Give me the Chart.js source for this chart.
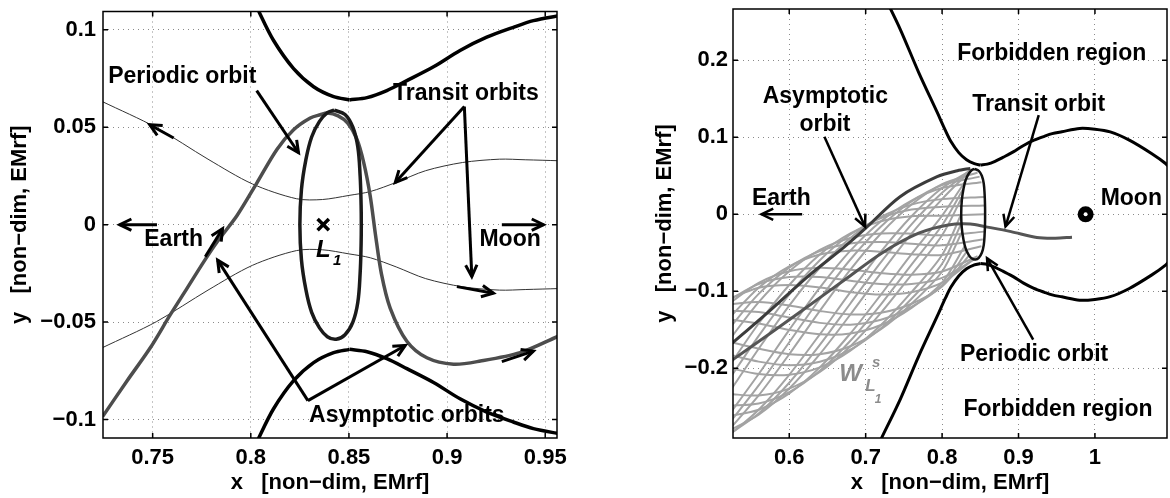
<!DOCTYPE html>
<html>
<head>
<meta charset="utf-8">
<script src="https://cdn.jsdelivr.net/npm/chart.js@4.4.1/dist/chart.umd.min.js"></script>
<style>
  html, body { margin: 0; padding: 0; overflow: hidden; background: #fff; width: 1170px; height: 498px; }
  #left { position: absolute; left: 0; top: 0; }
  #right { position: absolute; left: 585px; top: 0; }
</style>
</head>
<body>
<canvas id="left" width="585" height="498"></canvas>
<canvas id="right" width="590" height="498"></canvas>
<script>
const FONT = "'Liberation Sans', Arial, Helvetica, sans-serif";

// zero-velocity curve, Earth-side branch (upper / lower)
const zvcEarthX = [0.716, 0.7209, 0.7451, 0.7693, 0.7935, 0.8043, 0.8116, 0.8218, 0.832, 0.8422, 0.8503];
const zvcEarthUpperY = [0.300, 0.2903, 0.2406, 0.1844, 0.1326, 0.109, 0.0945, 0.0801, 0.0708, 0.0657, 0.064];
const zvcEarthLowerY = [-0.300, -0.2903, -0.2406, -0.1844, -0.1326, -0.109, -0.0945, -0.0801, -0.0708, -0.0657, -0.064];

// zero-velocity curve, Moon-side branch (upper / lower)
const zvcMoonX = [0.8503, 0.8592, 0.8693, 0.8795, 0.8931, 0.9066, 0.9202, 0.9338, 0.944, 0.9567, 0.98, 1.0, 1.02, 1.045, 1.074, 1.0924, 1.10];
const zvcMoonUpperY = [0.064, 0.0652, 0.0688, 0.0739, 0.081, 0.0894, 0.0962, 0.1013, 0.1047, 0.1072, 0.1115, 0.1105, 0.107, 0.0963, 0.079, 0.066, 0.058];
const zvcMoonLowerY = [-0.064, -0.0652, -0.0688, -0.0739, -0.081, -0.0894, -0.0962, -0.1013, -0.1047, -0.1072, -0.1115, -0.1105, -0.107, -0.0963, -0.079, -0.066, -0.058];

// periodic (Lyapunov) orbit around L1
const lyapX = [0.8425, 0.848, 0.852, 0.8545, 0.8557, 0.8562, 0.8563, 0.8562, 0.8557, 0.8545, 0.852, 0.848, 0.8435, 0.839, 0.835, 0.831, 0.828, 0.8258, 0.825, 0.8258, 0.828, 0.831, 0.835, 0.839, 0.8425];
const lyapY = [0.0588, 0.0565, 0.050, 0.040, 0.025, 0.010, 0, -0.010, -0.025, -0.040, -0.050, -0.0565, -0.0588, -0.0575, -0.053, -0.045, -0.033, -0.018, 0, 0.018, 0.033, 0.045, 0.053, 0.0575, 0.0588];

// left panel: asymptotic orbit (grey) and two transit orbits (thin)
const asymX = [0.7245, 0.737, 0.7488, 0.759, 0.7675, 0.776, 0.7828, 0.793, 0.8032, 0.8133, 0.8218, 0.8303, 0.8354, 0.839, 0.8445, 0.8495, 0.854, 0.8575, 0.8608, 0.8635, 0.8665, 0.871, 0.8795, 0.8897, 0.9033, 0.917, 0.9372, 0.957];
const asymY = [-0.0985, -0.0801, -0.0632, -0.0462, -0.0327, -0.0191, -0.0089, 0.0047, 0.0216, 0.0386, 0.0487, 0.0547, 0.0564, 0.0573, 0.0558, 0.052, 0.044, 0.032, 0.015, -0.005, -0.025, -0.0428, -0.0598, -0.0683, -0.0716, -0.07, -0.0657, -0.0571];
const transitX = [0.7245, 0.7519, 0.7782, 0.8008, 0.8233, 0.8365, 0.85, 0.8609, 0.8741, 0.8891, 0.9079, 0.9267, 0.9398, 0.957];
const transitUpperY = [0.0631, 0.0498, 0.0336, 0.0209, 0.0133, 0.0129, 0.015, 0.017, 0.0217, 0.0277, 0.0319, 0.0336, 0.0333, 0.0328];
const transitLowerY = [-0.0631, -0.0498, -0.0336, -0.0209, -0.0133, -0.0129, -0.015, -0.017, -0.0217, -0.0277, -0.0319, -0.0336, -0.0333, -0.0328];

// right panel: stable manifold tube. each row is one trajectory: its point on the orbit, then y at tubeStationX
const tubeStationX = [0.80, 0.76, 0.72, 0.68, 0.64, 0.60, 0.56, 0.52];
const tubeStartX = [
  0.8405, 0.8346, 0.8295, 0.8262, 0.825, 0.8262, 0.8295, 0.8346,
  0.8405, 0.8464, 0.8515, 0.8548, 0.856, 0.8548, 0.8515, 0.8464,
  0.8375, 0.8276, 0.8253, 0.8319, 0.8435, 0.8534, 0.8557, 0.8491,
];
const tubeStartY = [
  0.0588, 0.0543, 0.0416, 0.0225, 0, -0.0225, -0.0416, -0.0543,
  -0.0588, -0.0543, -0.0416, -0.0225, 0, 0.0225, 0.0416, 0.0543,
  0.0577, 0.0327, -0.0115, -0.0489, -0.0577, -0.0327, 0.0115, 0.0489,
];
const tubeY = [
  [0.0341, -0.0025, -0.0485, -0.101, -0.1559, -0.2084, -0.2538, -0.2881],
  [0.0197, -0.0251, -0.0764, -0.1301, -0.1816, -0.2263, -0.2603, -0.2813],
  [-0.0018, -0.0518, -0.1043, -0.1548, -0.1988, -0.2326, -0.2538, -0.2621],
  [-0.0273, -0.0785, -0.1279, -0.1713, -0.2048, -0.2263, -0.2352, -0.2332],
  [-0.0528, -0.1011, -0.1438, -0.1771, -0.1988, -0.2084, -0.2074, -0.1992],
  [-0.0743, -0.1162, -0.1493, -0.1713, -0.1816, -0.1817, -0.1746, -0.1652],
  [-0.0887, -0.1215, -0.1438, -0.1548, -0.1559, -0.1501, -0.1418, -0.1363],
  [-0.0938, -0.1162, -0.1279, -0.1301, -0.1255, -0.1185, -0.114, -0.1171],
  [-0.0887, -0.1011, -0.1043, -0.101, -0.0951, -0.0918, -0.0954, -0.1103],
  [-0.0743, -0.0785, -0.0764, -0.0719, -0.0694, -0.0739, -0.0889, -0.1171],
  [-0.0528, -0.0518, -0.0485, -0.0472, -0.0522, -0.0676, -0.0954, -0.1363],
  [-0.0273, -0.0251, -0.0249, -0.0307, -0.0462, -0.0739, -0.114, -0.1652],
  [-0.0018, -0.0025, -0.009, -0.0249, -0.0522, -0.0918, -0.1418, -0.1992],
  [0.0197, 0.0126, -0.0035, -0.0307, -0.0694, -0.1185, -0.1746, -0.2332],
  [0.0341, 0.0179, -0.009, -0.0472, -0.0951, -0.1501, -0.2074, -0.2621],
  [0.0392, 0.0126, -0.0249, -0.0719, -0.1255, -0.1817, -0.2352, -0.2813],
  [0.028, -0.013, -0.0622, -0.1158, -0.1696, -0.2187, -0.2587, -0.2864],
  [-0.0143, -0.0654, -0.1169, -0.1642, -0.2033, -0.231, -0.2458, -0.2486],
  [-0.0643, -0.1097, -0.1479, -0.1757, -0.1914, -0.196, -0.1913, -0.1819],
  [-0.0925, -0.1202, -0.137, -0.1433, -0.141, -0.134, -0.127, -0.1253],
  [-0.0826, -0.0906, -0.0906, -0.0862, -0.0814, -0.0815, -0.0905, -0.112],
  [-0.0403, -0.0382, -0.0359, -0.0378, -0.0477, -0.0692, -0.1034, -0.1498],
  [0.0097, 0.0061, -0.0049, -0.0263, -0.0596, -0.1042, -0.1579, -0.2165],
  [0.0379, 0.0166, -0.0158, -0.0587, -0.11, -0.1662, -0.2222, -0.2731],
];

// right panel: highlighted asymptotic orbit and transit orbit
const asymOrbitX = [0.52, 0.5758, 0.6242, 0.6726, 0.70, 0.745, 0.7935, 0.82, 0.837];
const asymOrbitY = [-0.172, -0.124, -0.0808, -0.0419, -0.018, 0.0229, 0.0488, 0.0565, 0.0596];
const transitOrbitX = [0.52, 0.5758, 0.6242, 0.6726, 0.7209, 0.7693, 0.808, 0.837, 0.8563, 0.8902, 0.924, 0.9483, 0.97];
const transitOrbitY = [-0.193, -0.1542, -0.1197, -0.0851, -0.0505, -0.0246, -0.0138, -0.0125, -0.016, -0.0225, -0.0302, -0.0311, -0.0298];

// markers
const l1Point = [0.8369, 0];
const moonPoint = [0.9878, 0];

// tick labels
const leftXTicks = [0.75, 0.8, 0.85, 0.9, 0.95];
const leftYTicks = [-0.1, -0.05, 0, 0.05, 0.1];
const rightXTicks = [0.6, 0.7, 0.8, 0.9, 1];
const rightYTicks = [-0.2, -0.1, 0, 0.1, 0.2];

// annotation arrows [x0, y0, x1, y1], head at the second point
const leftArrows = [
  [0.803, 0.0688, 0.8243, 0.0369],
  [0.9088, 0.0606, 0.8736, 0.0216],
  [0.9088, 0.0606, 0.9126, -0.0267],
  [0.8291, -0.0903, 0.7831, -0.0182],
  [0.8291, -0.0903, 0.8787, -0.062],
  [0.7522, 0, 0.7332, 0],
  [0.9279, 0, 0.9491, 0],
  [0.7768, -0.0165, 0.7856, -0.0021],
  [0.7607, 0.0445, 0.7485, 0.0513],
  [0.905, -0.0318, 0.9236, -0.0352],
  [0.9279, -0.0703, 0.944, -0.0649],
];
const rightArrows = [
  [0.6169, 0, 0.5637, 0],
  [0.646, 0.1006, 0.6992, -0.016],
  [0.9265, 0.1287, 0.883, -0.016],
  [0.9192, -0.1629, 0.8588, -0.057],
];

const leftNotes = [
  { text: 'Periodic orbit', x: 0.7651, y: 0.0759 },
  { text: 'Transit orbits', x: 0.9096, y: 0.0674 },
  { text: 'Earth', x: 0.7607, y: -0.0079 },
  { text: 'Moon', x: 0.9321, y: -0.0079 },
  { text: 'Asymptotic orbits', x: 0.8795, y: -0.0979 },
  { text: 'L', x: 0.8369, y: -0.013, italic: true, size: 24 },
  { text: '1', x: 0.8440, y: -0.0186, italic: true, size: 15 },
];
const rightNotes = [
  { text: 'Forbidden region', x: 0.9434, y: 0.2086 },
  { text: 'Asymptotic', x: 0.6472, y: 0.1525 },
  { text: 'orbit', x: 0.6467, y: 0.117 },
  { text: 'Transit orbit', x: 0.9264, y: 0.143 },
  { text: 'Earth', x: 0.5896, y: 0.0208 },
  { text: 'Moon', x: 1.0476, y: 0.0208 },
  { text: 'Periodic orbit', x: 0.9204, y: -0.1823 },
  { text: 'Forbidden region', x: 0.9516, y: -0.2535 },
  { text: 'W', x: 0.6804, y: -0.2078, italic: true, color: '#8c8c8c', size: 24 },
  { text: 's', x: 0.7137, y: -0.1931, italic: true, color: '#8c8c8c', size: 15 },
  { text: 'L', x: 0.7064, y: -0.2234, italic: true, color: '#8c8c8c', size: 17 },
  { text: '1', x: 0.7161, y: -0.2403, italic: true, color: '#8c8c8c', size: 12 },
];

const pts = (xs, ys) => xs.map((x, i) => ({ x, y: ys[i] }));

const curve = (xs, ys, color, width, tension) => ({
  data: pts(xs, ys),
  showLine: true,
  borderColor: color,
  borderWidth: width,
  pointRadius: 0,
  tension: tension === undefined ? 0.3 : tension,
  clip: 0,
});

const arrow = (a, width) => ({
  data: [{ x: a[0], y: a[1] }, { x: a[2], y: a[3] }],
  showLine: true,
  borderColor: '#000',
  borderWidth: width,
  pointRadius: 0,
  clip: 0,
  arrow: true,
});

const marker = (p, style, radius, color, border) => ({
  data: [{ x: p[0], y: p[1] }],
  pointStyle: style,
  pointRadius: radius,
  borderWidth: border,
  borderColor: color,
  backgroundColor: color,
  clip: 0,
});

const fmt = (v) => String(+Number(v).toFixed(3)).replace('-', '\u2212');

// open V arrow heads on datasets flagged with arrow
const arrowHeads = {
  id: 'arrowHeads',
  afterDatasetsDraw(chart) {
    const ctx = chart.ctx;
    chart.data.datasets.forEach((ds, i) => {
      if (!ds.arrow) return;
      const p = chart.getDatasetMeta(i).data;
      const a = p[p.length - 2], b = p[p.length - 1];
      const ang = Math.atan2(b.y - a.y, b.x - a.x);
      const len = 13, spread = 0.45;
      ctx.save();
      ctx.strokeStyle = ds.borderColor;
      ctx.lineWidth = ds.borderWidth;
      ctx.beginPath();
      ctx.moveTo(b.x - len * Math.cos(ang - spread), b.y - len * Math.sin(ang - spread));
      ctx.lineTo(b.x, b.y);
      ctx.lineTo(b.x - len * Math.cos(ang + spread), b.y - len * Math.sin(ang + spread));
      ctx.stroke();
      ctx.restore();
    });
  },
};

// axes box with inward tick marks
const frame = {
  id: 'frame',
  afterDatasetsDraw(chart) {
    const { ctx, chartArea: a, scales } = chart;
    ctx.save();
    ctx.strokeStyle = '#000';
    ctx.lineWidth = 1.5;
    ctx.beginPath();
    scales.x.ticks.forEach((t) => {
      const p = scales.x.getPixelForValue(t.value);
      ctx.moveTo(p, a.bottom); ctx.lineTo(p, a.bottom - 5);
      ctx.moveTo(p, a.top); ctx.lineTo(p, a.top + 5);
    });
    scales.y.ticks.forEach((t) => {
      const p = scales.y.getPixelForValue(t.value);
      ctx.moveTo(a.left, p); ctx.lineTo(a.left + 5, p);
      ctx.moveTo(a.right, p); ctx.lineTo(a.right - 5, p);
    });
    ctx.stroke();
    ctx.strokeRect(a.left, a.top, a.right - a.left, a.bottom - a.top);
    ctx.restore();
  },
};

const notesPlugin = (items) => ({
  id: 'notes',
  afterDatasetsDraw(chart) {
    const { ctx, scales } = chart;
    items.forEach((n) => {
      ctx.save();
      ctx.font = (n.italic ? 'italic ' : '') + 'bold ' + (n.size || 23) + 'px ' + FONT;
      ctx.fillStyle = n.color || '#000';
      ctx.textAlign = 'center';
      ctx.textBaseline = 'middle';
      ctx.fillText(n.text, scales.x.getPixelForValue(n.x), scales.y.getPixelForValue(n.y));
      ctx.restore();
    });
  },
});

const axes = (xr, yr, xTicks, yTicks, yWidth, yTitlePad, yTickPad) => ({
  x: {
    type: 'linear',
    min: xr[0],
    max: xr[1],
    afterBuildTicks: (s) => { s.ticks = xTicks.map((v) => ({ value: v })); },
    afterFit: (s) => { s.height = 60; s.paddingLeft = 0; s.paddingRight = 0; },
    grid: { color: '#8a8a8a', lineWidth: 1, drawTicks: false },
    border: { display: false, dash: [1, 4] },
    ticks: { padding: 7, color: '#000', font: { size: 22, weight: 'bold' }, callback: fmt, maxRotation: 0 },
    title: { display: true, text: 'x   [non\u2212dim, EMrf]', color: '#000', font: { size: 22, weight: 'bold' }, padding: { top: 0, bottom: 2 } },
  },
  y: {
    type: 'linear',
    min: yr[0],
    max: yr[1],
    afterBuildTicks: (s) => { s.ticks = yTicks.map((v) => ({ value: v })); },
    afterFit: (s) => { s.width = yWidth; s.paddingTop = 0; s.paddingBottom = 0; },
    grid: { color: '#8a8a8a', lineWidth: 1, drawTicks: false },
    border: { display: false, dash: [1, 4] },
    ticks: { padding: yTickPad, color: '#000', font: { size: 22, weight: 'bold' }, callback: fmt },
    title: { display: true, text: 'y   [non\u2212dim, EMrf]', color: '#000', font: { size: 22, weight: 'bold' }, padding: { top: yTitlePad, bottom: 0 } },
  },
});

const baseOptions = (padding, scales) => ({
  responsive: false,
  animation: false,
  layout: { padding },
  plugins: { legend: { display: false }, tooltip: { enabled: false } },
  scales,
});

Chart.defaults.font.family = FONT;

// datasets are listed back to front; Chart.js paints index 0 last, hence reverse()

// ---------- left panel ----------
const leftData = [
  curve(transitX, transitUpperY, '#333', 1),
  curve(transitX, transitLowerY, '#333', 1),
  curve(zvcEarthX, zvcEarthUpperY, '#000', 3.5),
  curve(zvcEarthX, zvcEarthLowerY, '#000', 3.5),
  curve(zvcMoonX, zvcMoonUpperY, '#000', 3.5),
  curve(zvcMoonX, zvcMoonLowerY, '#000', 3.5),
  curve(asymX, asymY, '#4d4d4d', 3.5),
  curve(lyapX, lyapY, '#1a1a1a', 3.5, 0.4),
  marker(l1Point, 'crossRot', 8, '#000', 3.5),
].concat(leftArrows.map((a) => arrow(a, 3))).reverse();

new Chart(document.getElementById('left'), {
  type: 'scatter',
  data: { datasets: leftData },
  options: baseOptions({ top: 7, right: 28, left: 0, bottom: 0 },
    axes([0.7247, 0.956], [-0.1095, 0.1094], leftXTicks, leftYTicks, 103, 7, 7)),
  plugins: [arrowHeads, frame, notesPlugin(leftNotes)],
});

// ---------- right panel ----------
const tubeData = tubeY.map((row, j) =>
  curve([tubeStartX[j]].concat(tubeStationX), [tubeStartY[j]].concat(row), '#a3a3a3', 2, 0.3));

const rightData = tubeData.concat([
  curve(asymOrbitX, asymOrbitY, '#3c3c3c', 3),
  curve(transitOrbitX, transitOrbitY, '#555', 3),
  curve(lyapX, lyapY, '#111', 2.5, 0.4),
  curve(zvcEarthX, zvcEarthUpperY, '#000', 3),
  curve(zvcEarthX, zvcEarthLowerY, '#000', 3),
  curve(zvcMoonX, zvcMoonUpperY, '#000', 3),
  curve(zvcMoonX, zvcMoonLowerY, '#000', 3),
  marker(moonPoint, 'circle', 8, '#000', 0),
  marker(moonPoint, 'circle', 2, '#fff', 0),
]).concat(rightArrows.map((a) => arrow(a, 2.5))).reverse();

new Chart(document.getElementById('right'), {
  type: 'scatter',
  data: { datasets: rightData },
  options: baseOptions({ top: 9, right: 4, left: 0, bottom: 0 },
    axes([0.5264, 1.0943], [-0.2905, 0.2666], rightXTicks, rightYTicks, 148, 67, 5)),
  plugins: [arrowHeads, frame, notesPlugin(rightNotes)],
});
</script>
</body>
</html>
